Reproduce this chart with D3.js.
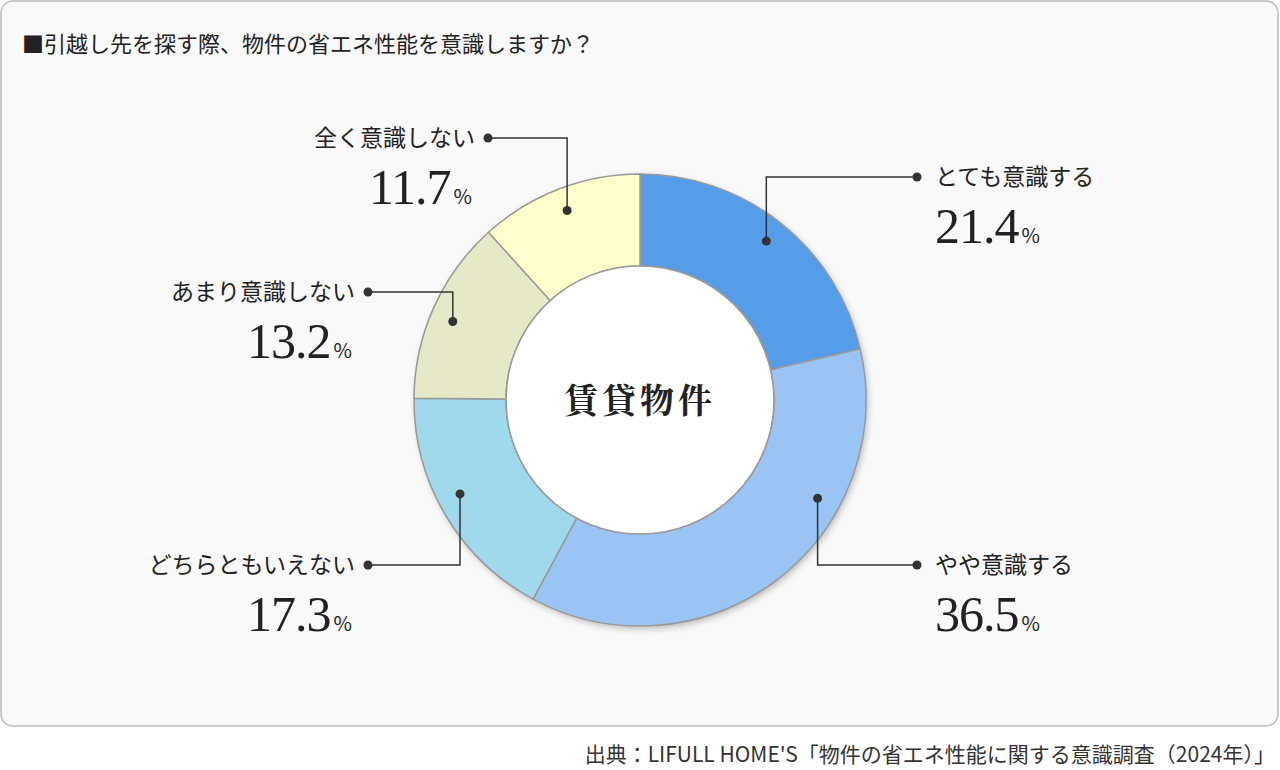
<!DOCTYPE html>
<html><head><meta charset="utf-8">
<script src="https://cdn.jsdelivr.net/npm/d3@7"></script>
<style>body{margin:0;background:#fff}</style></head>
<body><svg id="c" width="1280" height="770"></svg>
<script>
const categories=["とても意識する","やや意識する","どちらともいえない","あまり意識しない","全く意識しない"];
const values=[21.4,36.5,17.3,13.2,11.7];
const colors=["#559de8","#9ac4f3","#a0d8ec","#e6e9c8","#ffffcc"];
const title="■引越し先を探す際、物件の省エネ性能を意識しますか？";
const source="出典：LIFULL HOME'S「物件の省エネ性能に関する意識調査（2024年）」";
const svg=d3.select("#c");
svg.append("rect").attr("x",1).attr("y",1).attr("width",1277).attr("height",725).attr("rx",12)
 .attr("fill","#f9f9f9").attr("stroke","#bbb").attr("stroke-width",1.5);
svg.append("text").attr("x",22).attr("y",52).attr("font-size",22).attr("fill","#222")
 .attr("font-family","Noto Sans CJK JP").text(title);
svg.append("text").attr("x",1275).attr("y",762).attr("text-anchor","end").attr("font-size",21).attr("fill","#333")
 .attr("font-family","Noto Sans CJK JP").text(source);
const defs=svg.append("defs");
const f=defs.append("filter").attr("id","sh").attr("x","-20%").attr("y","-20%").attr("width","140%").attr("height","140%");
f.append("feDropShadow").attr("dx",2).attr("dy",3).attr("stdDeviation",3).attr("flood-color","#000").attr("flood-opacity",0.25);
const cx=640,cy=400;
const g=svg.append("g").attr("transform",`translate(${cx},${cy})`);
const pie=d3.pie().sort(null).value(d=>d)(values);
const arc=d3.arc().innerRadius(134).outerRadius(226);
g.append("circle").attr("r",226).attr("fill","#fff").attr("filter","url(#sh)");
g.selectAll("path.s").data(pie).join("path").attr("d",arc).attr("fill",(d,i)=>colors[i])
 .attr("stroke","#999").attr("stroke-width",1.5);
g.append("circle").attr("r",134).attr("fill","#fff").attr("stroke","#999").attr("stroke-width",1.5);
g.append("text").attr("y",13).attr("text-anchor","middle").attr("font-size",34).attr("font-weight","bold")
 .attr("letter-spacing",4).attr("font-family","Noto Serif CJK JP, Noto Sans CJK JP").attr("fill","#222").text("賃貸物件");
// label layout: [cornerY, endX, side, fraction of slice for dot]
const lay=[[177,917,1,.5],[565,917,1,.32],[565,368,-1,.55],[292,368,-1,.47],[138,488,-1,.5]];
pie.forEach((d,i)=>{
 const [ly,lx,s,fr]=lay[i];
 const a=d.startAngle+fr*(d.endAngle-d.startAngle), r=203;
 const x0=cx+r*Math.sin(a),y0=cy-r*Math.cos(a);
 svg.append("path").attr("d",`M${x0},${y0}V${ly}H${lx}`).attr("fill","none").attr("stroke","#333").attr("stroke-width",1.5);
 svg.append("circle").attr("cx",x0).attr("cy",y0).attr("r",4.5).attr("fill","#333");
 svg.append("circle").attr("cx",lx).attr("cy",ly).attr("r",4.5).attr("fill","#333");
 const tx=s>0?lx+18:lx-13, anc=s>0?"start":"end";
 svg.append("text").attr("x",tx).attr("y",ly+8).attr("text-anchor",anc).attr("font-size",23).attr("fill","#222")
  .attr("font-family","Noto Sans CJK JP").text(categories[i]);
 const t=svg.append("text").attr("x",s>0?tx:tx-3).attr("y",ly+66).attr("text-anchor",anc).attr("fill","#222")
  .attr("font-family","Liberation Serif");
 t.append("tspan").attr("font-size",50).attr("letter-spacing",-1).text(values[i].toFixed(1));
 t.append("tspan").attr("font-size",20).attr("font-family","Noto Sans CJK JP").attr("dx",3).text("%");
});
</script></body></html>
